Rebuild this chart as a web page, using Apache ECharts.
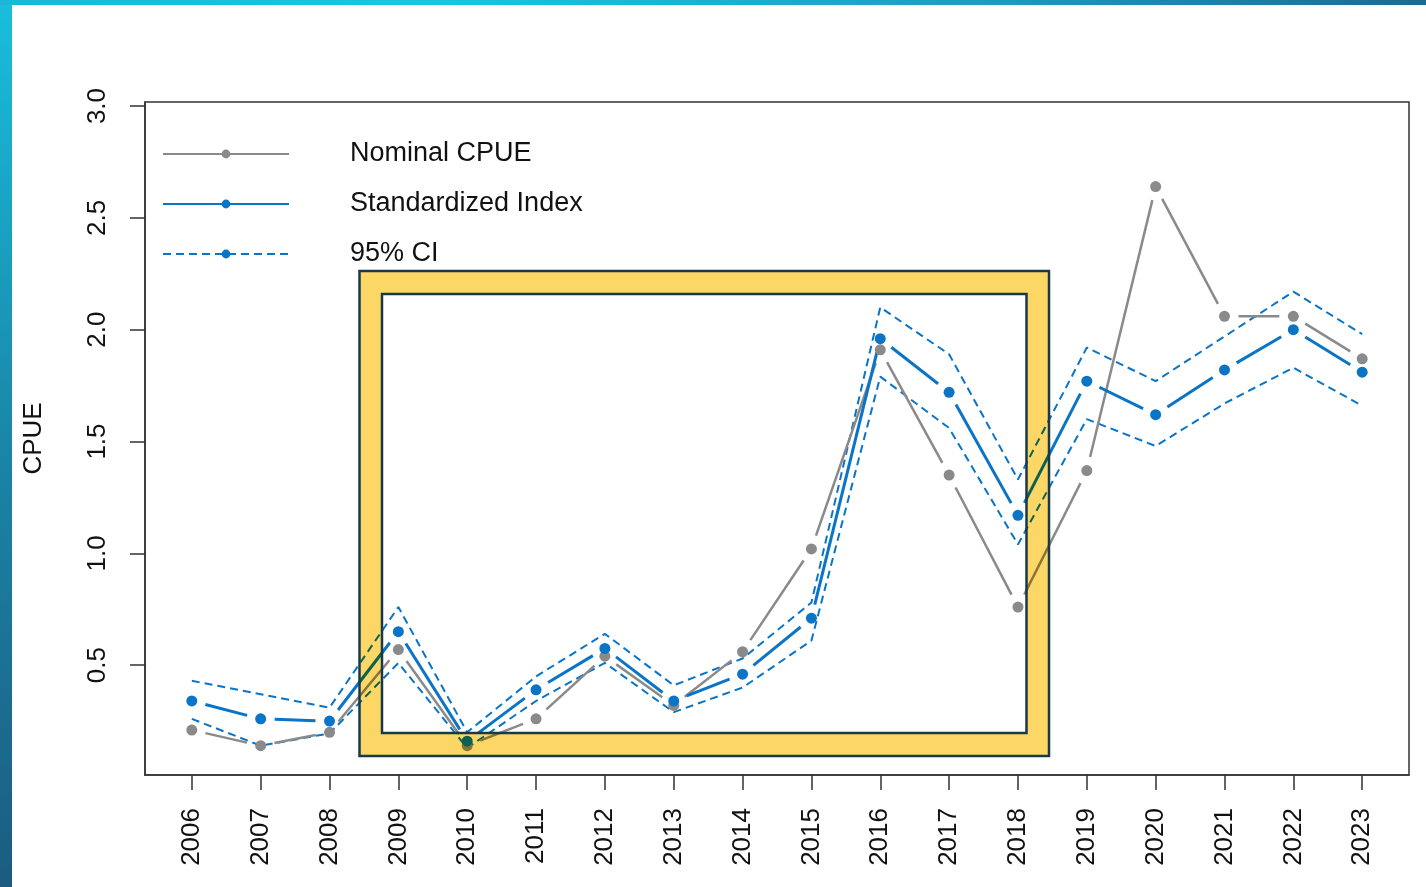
<!DOCTYPE html>
<html><head><meta charset="utf-8">
<script src="https://cdn.jsdelivr.net/npm/echarts@6/dist/echarts.min.js"></script>
<style>html,body{margin:0;padding:0;background:#fff}#c{width:1426px;height:887px}</style>
</head><body><div id="c"></div>
<script>
const years = [2006,2007,2008,2009,2010,2011,2012,2013,2014,2015,2016,2017,2018,2019,2020,2021,2022,2023];
const nominal      = [0.21,0.14,0.20,0.57,0.14,0.26,0.54,0.32,0.56,1.02,1.91,1.35,0.76,1.37,2.64,2.06,2.06,1.87];
const standardized = [0.34,0.26,0.25,0.65,0.16,0.39,0.575,0.34,0.46,0.71,1.96,1.72,1.17,1.77,1.62,1.82,2.00,1.81];
const ciUpper      = [0.43,0.37,0.31,0.76,0.20,0.45,0.64,0.41,0.53,0.78,2.10,1.89,1.33,1.92,1.77,1.97,2.17,1.98];
const ciLower      = [0.26,0.14,0.195,0.51,0.13,0.34,0.51,0.29,0.40,0.61,1.79,1.56,1.04,1.60,1.48,1.67,1.83,1.66];
const yTicks = [0.5,1.0,1.5,2.0,2.5,3.0];

const GRAY = '#8a8a8a', BLUE = '#0a74c6';
const FONT = 'Liberation Sans, Arial, sans-serif';

function pts(vals){ return years.map((y,i)=>[y, vals[i]]); }
function segSeries(vals, color, width, gap){
  const data = years.slice(0,-1).map((y,i)=>[y, vals[i], years[i+1], vals[i+1]]);
  return {type:'custom', silent:true, z:3, data, encode:{x:[0,2], y:[1,3]},
    renderItem(params, api){
      const p1 = api.coord([api.value(0), api.value(1)]);
      const p2 = api.coord([api.value(2), api.value(3)]);
      const dx=p2[0]-p1[0], dy=p2[1]-p1[1], L=Math.hypot(dx,dy);
      if (L <= 2*gap) return {type:'group', children:[]};
      const ux=dx/L, uy=dy/L;
      return {type:'line', shape:{x1:p1[0]+ux*gap, y1:p1[1]+uy*gap, x2:p2[0]-ux*gap, y2:p2[1]-uy*gap},
        style:{stroke:color, lineWidth:width}};
    }};
}

const chart = echarts.init(document.getElementById('c'), null, {renderer:'canvas'});
chart.setOption({
  animation:false,
  backgroundColor:'#ffffff',
  textStyle:{fontFamily:FONT},
  grid:{left:145, right:17, top:102, bottom:112, show:true, borderColor:'#333', borderWidth:1.5, backgroundColor:'transparent'},
  legend:{
    orient:'vertical', left:157, top:134, itemWidth:126, itemHeight:11, itemGap:20,
    textStyle:{fontSize:27, fontFamily:FONT, color:'#111', lineHeight:30, padding:[0,0,0,56]},
    data:[
      {name:'Nominal CPUE', lineStyle:{color:GRAY, width:2}},
      {name:'Standardized Index', lineStyle:{color:BLUE, width:2}},
      {name:'95% CI', lineStyle:{color:BLUE, width:2, type:[8,5]}}
    ]
  },
  xAxis:{type:'value', min:2005.32, max:2023.68,
    axisLine:{show:true, lineStyle:{color:'#333', width:1.5}},
    axisTick:{show:true, length:15, customValues:years, lineStyle:{color:'#333', width:1.5}},
    axisLabel:{customValues:years, rotate:90, margin:33, fontSize:26, color:'#111', fontFamily:FONT, formatter:v=>String(v)},
    splitLine:{show:false}},
  yAxis:{type:'value', min:0.009, max:3.018,
    name:'CPUE', nameLocation:'middle', nameGap:98, nameRotate:90,
    nameTextStyle:{fontSize:26, color:'#111', fontFamily:FONT},
    axisLine:{show:true, lineStyle:{color:'#333', width:1.5}},
    axisTick:{show:true, length:15, customValues:yTicks, lineStyle:{color:'#333', width:1.5}},
    axisLabel:{customValues:yTicks, rotate:90, margin:34, fontSize:26, color:'#111', fontFamily:FONT, formatter:v=>v.toFixed(1)},
    splitLine:{show:false}},
  series:[
    {name:'95% CI', type:'line', data:pts(ciUpper), symbol:'circle', symbolSize:10, showSymbol:false, z:2,
      itemStyle:{color:BLUE}, lineStyle:{color:BLUE, width:2, type:[8,5]}},
    {name:'95% CI', type:'line', data:pts(ciLower), symbol:'circle', symbolSize:10, showSymbol:false, z:2,
      itemStyle:{color:BLUE}, lineStyle:{color:BLUE, width:2, type:[8,5]}},
    segSeries(nominal, GRAY, 2.5, 14),
    segSeries(standardized, BLUE, 3, 14),
    {name:'Nominal CPUE', type:'line', data:pts(nominal), symbol:'circle', symbolSize:11, showSymbol:true, z:5,
      itemStyle:{color:GRAY}, lineStyle:{color:'rgba(0,0,0,0)'}},
    {name:'Standardized Index', type:'line', data:pts(standardized), symbol:'circle', symbolSize:11, showSymbol:true, z:5,
      itemStyle:{color:BLUE}, lineStyle:{color:'rgba(0,0,0,0)'}}
  ],
  graphic:[
    {type:'rect', z:200, silent:true, shape:{x:0,y:0,width:12,height:887},
      style:{fill:new echarts.graphic.LinearGradient(0,0,0,1,[{offset:0,color:'#19bedc'},{offset:0.5,color:'#1a86a8'},{offset:1,color:'#1b5c80'}])}},
    {type:'rect', z:200, silent:true, shape:{x:0,y:0,width:1426,height:5},
      style:{fill:new echarts.graphic.LinearGradient(0,0,1,0,[{offset:0,color:'#18b8d6'},{offset:0.3,color:'#19c6e0'},{offset:0.7,color:'#1a9cc0'},{offset:1,color:'#1b6a92'}])}},
    {type:'rect', z:150, silent:true, shape:{x:370.75,y:282.5,width:667,height:462},
      style:{fill:'none', stroke:'#fdd766', lineWidth:22.5, blend:'multiply'}},
    {type:'rect', z:160, silent:true, shape:{x:359.5,y:271,width:689.5,height:485},
      style:{fill:'none', stroke:'#17394b', lineWidth:2.5}},
    {type:'rect', z:160, silent:true, shape:{x:382,y:294,width:644.5,height:439},
      style:{fill:'none', stroke:'#17394b', lineWidth:2.5}}
  ]
});
</script></body></html>
